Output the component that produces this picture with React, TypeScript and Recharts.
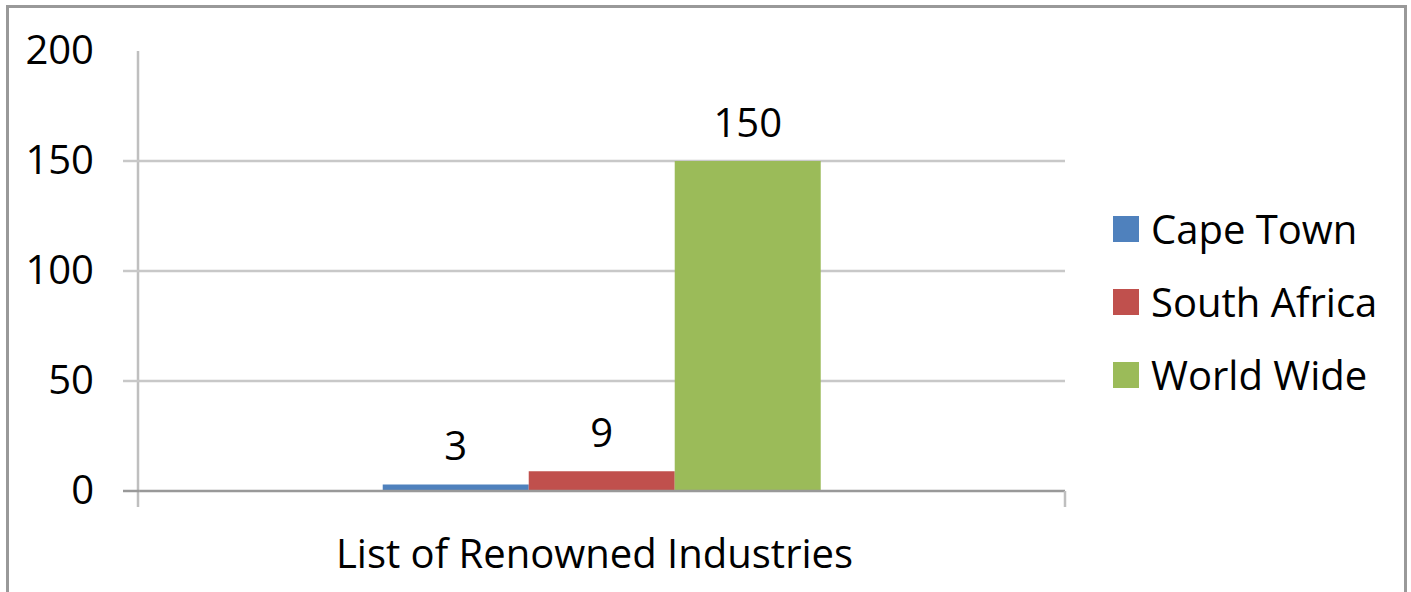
import { BarChart, Bar, XAxis, YAxis, CartesianGrid, Legend, LabelList } from 'recharts'

const categories = ['List of Renowned Industries']
const seriesNames = ['Cape Town', 'South Africa', 'World Wide']
const seriesKeys = ['capeTown', 'southAfrica', 'worldWide']
const seriesColors = ['#4f81bd', '#c0504d', '#9bbb59']
const capeTown = [3]
const southAfrica = [9]
const worldWide = [150]
const yTicks = [0, 50, 100, 150, 200]
const gridValues = [50, 100, 150]

const data = categories.map((name, i) => ({
    name,
    capeTown: capeTown[i],
    southAfrica: southAfrica[i],
    worldWide: worldWide[i],
}))

const FONT = '"Open Sans", sans-serif'

// y tick: label plus the short outward tick (none at the top value)
const YTick = (props: any) => {
    const { x, y, payload } = props
    const v = payload.value
    const top = yTicks[yTicks.length - 1]
    return (
        <g>
            {v !== top && (
                <line x1={x + 29} x2={x + 45} y1={y} y2={y} stroke={v === 0 ? '#999' : '#c8c8c8'} strokeWidth={2.5} />
            )}
            <text x={x} y={y + 13} textAnchor="end" fontSize={40} fontFamily={FONT} fill="#000">
                {v}
            </text>
        </g>
    )
}

// x tick: category label plus tick marks on the category boundaries
const XTick = (props: any) => {
    const { x, y, payload, width } = props
    const half = width / categories.length / 2
    return (
        <g>
            <line x1={x - half} x2={x - half} y1={y - 16} y2={y} stroke="#bfbfbf" strokeWidth={2.5} />
            <line x1={x + half} x2={x + half} y1={y - 16} y2={y} stroke="#bfbfbf" strokeWidth={2.5} />
            <text x={x - 7} y={y + 61} textAnchor="middle" fontSize={40} fontFamily={FONT} fill="#000">
                {payload.value}
            </text>
        </g>
    )
}

const LegendContent = (props: any) => {
    const items = props.payload && props.payload.length
        ? props.payload.map((p: any) => ({ name: p.value, color: p.color }))
        : seriesNames.map((n, i) => ({ name: n, color: seriesColors[i] }))
    return (
        <div>
            {items.map((it: any) => (
                <div key={it.name} style={{ display: 'flex', alignItems: 'center', height: 73 }}>
                    <span style={{ width: 26, height: 26, background: it.color, marginRight: 12, flex: 'none' }} />
                    <span style={{ fontSize: 40, lineHeight: 1, fontFamily: FONT, color: '#000', whiteSpace: 'nowrap' }}>
                        {it.name}
                    </span>
                </div>
            ))}
        </div>
    )
}

export default function App() {
    return (
        <div style={{ position: 'absolute', left: 0, top: 0, width: 1411, height: 592, overflow: 'hidden', background: '#fff' }}>
            <div
                style={{
                    position: 'absolute',
                    left: 6,
                    top: 5,
                    width: 1401,
                    height: 700,
                    border: '3px solid #999',
                    boxSizing: 'border-box',
                }}
            />
            <div style={{ position: 'absolute', left: 0, top: 0 }}>
                <BarChart
                    width={1411}
                    height={592}
                    data={data}
                    margin={{ top: 51, right: 346, bottom: 0, left: 0 }}
                    barCategoryGap="26.4%"
                    barGap={0}
                >
                    <CartesianGrid vertical={false} horizontalValues={gridValues} stroke="#c8c8c8" strokeWidth={2.5} />
                    <XAxis
                        dataKey="name"
                        height={101}
                        tickSize={16}
                        tickMargin={0}
                        tickLine={false}
                        axisLine={{ stroke: '#999', strokeWidth: 2.5 }}
                        tick={<XTick />}
                    />
                    <YAxis
                        width={138}
                        domain={[0, 200]}
                        ticks={yTicks}
                        interval={0}
                        tickSize={15}
                        tickMargin={29}
                        tickLine={false}
                        axisLine={{ stroke: '#bfbfbf', strokeWidth: 2.5 }}
                        tick={<YTick />}
                    />
                    <Legend
                        layout="vertical"
                        align="center"
                        verticalAlign="middle"
                        content={<LegendContent />}
                        wrapperStyle={{ left: 1113, top: 192, width: 290 }}
                    />
                    {seriesKeys.map((k, i) => (
                        <Bar key={k} dataKey={k} name={seriesNames[i]} fill={seriesColors[i]} isAnimationActive={false}>
                            <LabelList dataKey={k} position="top" offset={24} fill="#000" fontSize={40} fontFamily={FONT} />
                        </Bar>
                    ))}
                </BarChart>
            </div>
        </div>
    )
}
